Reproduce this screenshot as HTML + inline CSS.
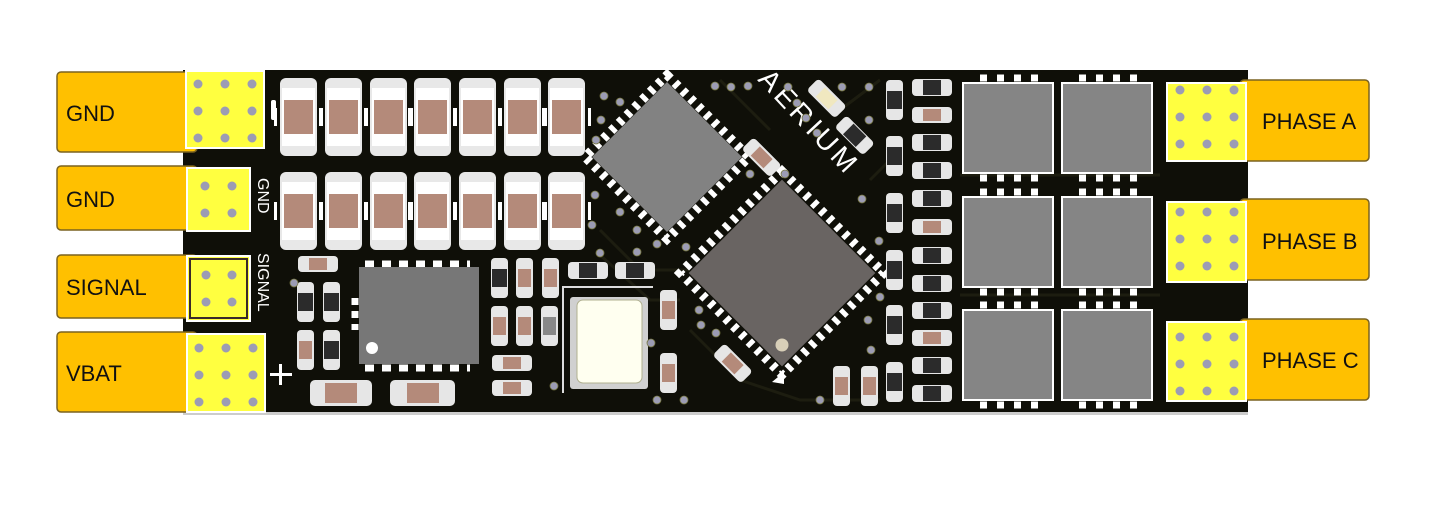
<!DOCTYPE html>
<html><head><meta charset="utf-8"><style>
html,body{margin:0;padding:0;background:#fff;width:1449px;height:511px;overflow:hidden}
svg{display:block}
</style></head><body>
<svg width="1449" height="511" viewBox="0 0 1449 511" xmlns="http://www.w3.org/2000/svg" font-family="Liberation Sans, sans-serif">
<defs>
  <g id="cap">
    <rect x="0" y="0" width="37" height="78" rx="6" fill="#e8e8e8"/>
    <rect x="2" y="10" width="33" height="58" fill="#ffffff"/>
    <rect x="4" y="22" width="29" height="34" fill="#b48a7a"/>
    <rect x="40" y="30" width="3" height="18" fill="#fff"/>
    <rect x="-6" y="30" width="3" height="18" fill="#fff"/>
  </g>
  <g id="vb"><rect width="17" height="40" rx="4" fill="#e6e6e6"/><rect x="1" y="11" width="15" height="18" fill="#2b2b2b"/></g>
  <g id="vr"><rect width="17" height="40" rx="4" fill="#e6e6e6"/><rect x="2" y="11" width="13" height="18" fill="#b48a7a"/></g>
  <g id="hr"><rect width="40" height="16" rx="4" fill="#e6e6e6"/><rect x="11" y="2" width="18" height="12" fill="#b48a7a"/></g>
  <g id="hb"><rect width="40" height="17" rx="4" fill="#e6e6e6"/><rect x="11" y="1" width="18" height="15" fill="#2b2b2b"/></g>
  <g id="pad3">
    <circle cx="0" cy="0" r="4.5" fill="#9c9cb4"/><circle cx="27" cy="0" r="4.5" fill="#9c9cb4"/><circle cx="54" cy="0" r="4.5" fill="#9c9cb4"/>
    <circle cx="0" cy="27" r="4.5" fill="#9c9cb4"/><circle cx="27" cy="27" r="4.5" fill="#9c9cb4"/><circle cx="54" cy="27" r="4.5" fill="#9c9cb4"/>
    <circle cx="0" cy="54" r="4.5" fill="#9c9cb4"/><circle cx="27" cy="54" r="4.5" fill="#9c9cb4"/><circle cx="54" cy="54" r="4.5" fill="#9c9cb4"/>
  </g>
  <g id="mos">
    <line x1="17" y1="-5" x2="80" y2="-5" stroke="#fff" stroke-width="7" stroke-dasharray="7 10"/>
    <line x1="17" y1="95" x2="80" y2="95" stroke="#fff" stroke-width="7" stroke-dasharray="7 10"/>
    <rect x="0" y="0" width="90" height="90" fill="#858585" stroke="#fff" stroke-width="2"/>
  </g>
  <g id="via"><circle r="4" fill="#9c9cb4" stroke="#777740" stroke-width="0.8"/></g>
</defs>

<rect x="183" y="70" width="1065" height="344" fill="#0f0f08"/>
<rect x="183" y="412" width="1065" height="3" fill="#ccc"/>
<g stroke="#1d1d10" stroke-width="3" fill="none">
  <path d="M600 230 L640 270 L690 270"/><path d="M600 255 L650 300 L680 300"/>
  <path d="M690 330 L740 380 L800 400 L880 400"/><path d="M870 180 L900 150"/>
  <path d="M840 110 L880 80"/><path d="M720 80 L770 130"/>
  <path d="M960 175 L1160 175"/><path d="M960 295 L1160 295"/>
</g>

<g fill="#ffc000" stroke="#7a6220" stroke-width="1.5">
  <rect x="57" y="72" width="140" height="80" rx="4"/>
  <rect x="57" y="166" width="140" height="64" rx="4"/>
  <rect x="57" y="255" width="140" height="63" rx="4"/>
  <rect x="57" y="332" width="140" height="80" rx="4"/>
</g>
<g font-size="22" fill="#111">
  <text x="66" y="121">GND</text>
  <text x="66" y="207">GND</text>
  <text x="66" y="295">SIGNAL</text>
  <text x="66" y="381">VBAT</text>
</g>
<g fill="#ffc000" stroke="#7a6220" stroke-width="1.5">
  <rect x="1240" y="80" width="129" height="81" rx="4"/>
  <rect x="1240" y="199" width="129" height="81" rx="4"/>
  <rect x="1240" y="319" width="129" height="81" rx="4"/>
</g>
<g font-size="22" fill="#111">
  <text x="1262" y="129">PHASE A</text>
  <text x="1262" y="249">PHASE B</text>
  <text x="1262" y="368">PHASE C</text>
</g>

<rect x="186" y="71" width="78" height="77" fill="#ffff40" stroke="#fff" stroke-width="2"/>
<use href="#pad3" x="198" y="84"/>
<rect x="187" y="168" width="63" height="63" fill="#ffff40" stroke="#fff" stroke-width="2"/>
<g fill="#9c9cb4"><circle cx="205" cy="186" r="4.5"/><circle cx="232" cy="186" r="4.5"/><circle cx="205" cy="213" r="4.5"/><circle cx="232" cy="213" r="4.5"/></g>
<rect x="187" y="256" width="63" height="65" fill="#ffff40" stroke="#fff" stroke-width="2"/>
<rect x="190" y="259" width="57" height="59" fill="none" stroke="#3a2a2a" stroke-width="2"/>
<g fill="#9c9cb4"><circle cx="206" cy="275" r="4.5"/><circle cx="232" cy="275" r="4.5"/><circle cx="206" cy="302" r="4.5"/><circle cx="232" cy="302" r="4.5"/></g>
<rect x="187" y="334" width="78" height="78" fill="#ffff40" stroke="#fff" stroke-width="2"/>
<use href="#pad3" x="199" y="348"/>
<g fill="#fff" font-size="16">
  <text transform="translate(258,178) rotate(90)">GND</text>
  <text transform="translate(258,253) rotate(90)">SIGNAL</text>
</g>
<rect x="270" y="373" width="22" height="3" fill="#fff"/><rect x="279" y="364" width="3" height="21" fill="#fff"/>
<rect x="271" y="100" width="5" height="20" rx="2" fill="#fff"/>

<rect x="1167" y="83" width="79" height="78" fill="#ffff40" stroke="#fff" stroke-width="2"/>
<use href="#pad3" x="1180" y="90"/>
<rect x="1167" y="202" width="79" height="80" fill="#ffff40" stroke="#fff" stroke-width="2"/>
<use href="#pad3" x="1180" y="212"/>
<rect x="1167" y="322" width="79" height="79" fill="#ffff40" stroke="#fff" stroke-width="2"/>
<use href="#pad3" x="1180" y="337"/>

<use href="#cap" x="280" y="78"/><use href="#cap" x="325" y="78"/><use href="#cap" x="370" y="78"/><use href="#cap" x="414" y="78"/><use href="#cap" x="459" y="78"/><use href="#cap" x="504" y="78"/><use href="#cap" x="548" y="78"/>
<use href="#cap" x="280" y="172"/><use href="#cap" x="325" y="172"/><use href="#cap" x="370" y="172"/><use href="#cap" x="414" y="172"/><use href="#cap" x="459" y="172"/><use href="#cap" x="504" y="172"/><use href="#cap" x="548" y="172"/>

<line x1="365" y1="264" x2="470" y2="264" stroke="#fff" stroke-width="7" stroke-dasharray="9 8"/>
<line x1="365" y1="368" x2="470" y2="368" stroke="#fff" stroke-width="7" stroke-dasharray="9 8"/>
<line x1="355" y1="298" x2="355" y2="330" stroke="#fff" stroke-width="7" stroke-dasharray="7 6"/>
<rect x="359" y="267" width="120" height="97" fill="#777"/>
<circle cx="372" cy="348" r="6" fill="#fff"/>

<use href="#hr" x="298" y="256"/>
<use href="#vb" x="297" y="282"/><use href="#vb" x="323" y="282"/>
<use href="#vr" x="297" y="330"/><use href="#vb" x="323" y="330"/>
<g><rect x="310" y="380" width="62" height="26" rx="5" fill="#e6e6e6"/><rect x="325" y="383" width="32" height="20" fill="#b48a7a"/></g>
<g><rect x="390" y="380" width="65" height="26" rx="5" fill="#e6e6e6"/><rect x="407" y="383" width="32" height="20" fill="#b48a7a"/></g>
<use href="#vb" x="491" y="258"/><use href="#vr" x="516" y="258"/><use href="#vr" x="542" y="258"/>
<use href="#vr" x="491" y="306"/><use href="#vr" x="516" y="306"/>
<g><rect x="541" y="306" width="17" height="40" rx="4" fill="#e6e6e6"/><rect x="543" y="317" width="13" height="18" fill="#888"/></g>
<use href="#hr" x="492" y="355"/><use href="#hr" x="492" y="380"/>
<use href="#hb" x="568" y="262"/><use href="#hb" x="615" y="262"/>
<use href="#vr" x="660" y="290"/><use href="#vr" x="660" y="353"/>

<path d="M563 393 L563 287 L653 287" fill="none" stroke="#ddd" stroke-width="2"/>
<rect x="570" y="297" width="78" height="92" rx="3" fill="#d0d0d0"/>
<rect x="577" y="300" width="65" height="83" rx="6" fill="#fffff0" stroke="#b0b090" stroke-width="1"/>

<g transform="translate(667,157) rotate(45)">
  <rect x="-58" y="-58" width="116" height="116" fill="none" stroke="#fff" stroke-width="9" stroke-dasharray="5 6"/>
  <rect x="-53" y="-53" width="106" height="106" fill="#828282"/>
</g>
<g transform="translate(782,273) rotate(45)">
  <rect x="-72" y="-72" width="144" height="144" fill="none" stroke="#fff" stroke-width="9" stroke-dasharray="5 6"/>
  <rect x="-66" y="-66" width="132" height="132" fill="#696462"/>
</g>
<circle cx="782" cy="345" r="6.5" fill="#d8cfb8"/>
<path d="M772 382 L784 372 L784 384 Z" fill="#fff"/>

<text transform="translate(757,80) rotate(47)" fill="#fff" font-size="28" letter-spacing="4">AERIUM</text>

<g transform="translate(762,157) rotate(45)"><rect x="-20" y="-8" width="40" height="17" rx="4" fill="#e6e6e6"/><rect x="-9" y="-6" width="18" height="13" fill="#b48a7a"/></g>
<g transform="translate(733,363) rotate(45)"><rect x="-20" y="-8" width="40" height="17" rx="4" fill="#e6e6e6"/><rect x="-9" y="-6" width="18" height="13" fill="#b48a7a"/></g>
<g transform="translate(827,98) rotate(45)"><rect x="-20" y="-8" width="40" height="17" rx="4" fill="#e6e6e6"/><rect x="-9" y="-6" width="18" height="13" fill="#f0e8c0"/></g>
<g transform="translate(855,135) rotate(45)"><rect x="-20" y="-8" width="40" height="17" rx="4" fill="#e6e6e6"/><rect x="-9" y="-7" width="18" height="15" fill="#2b2b2b"/></g>

<use href="#vb" x="886" y="80"/><use href="#vb" x="886" y="136"/><use href="#vb" x="886" y="193"/><use href="#vb" x="886" y="250"/><use href="#vb" x="886" y="305"/><use href="#vb" x="886" y="362"/>
<use href="#hb" x="912" y="79"/><use href="#hr" x="912" y="107"/><use href="#hb" x="912" y="134"/><use href="#hb" x="912" y="162"/>
<use href="#hb" x="912" y="190"/><use href="#hr" x="912" y="219"/><use href="#hb" x="912" y="247"/><use href="#hb" x="912" y="275"/>
<use href="#hb" x="912" y="302"/><use href="#hr" x="912" y="330"/><use href="#hb" x="912" y="357"/><use href="#hb" x="912" y="385"/>
<use href="#vr" x="833" y="366"/><use href="#vr" x="861" y="366"/>

<use href="#mos" x="963" y="83"/><use href="#mos" x="1062" y="83"/>
<use href="#mos" x="963" y="197"/><use href="#mos" x="1062" y="197"/>
<use href="#mos" x="963" y="310"/><use href="#mos" x="1062" y="310"/>

<use href="#via" x="604" y="96"/><use href="#via" x="601" y="120"/><use href="#via" x="596" y="140"/><use href="#via" x="620" y="102"/>
<use href="#via" x="595" y="195"/><use href="#via" x="592" y="225"/><use href="#via" x="620" y="212"/><use href="#via" x="600" y="253"/>
<use href="#via" x="637" y="230"/><use href="#via" x="637" y="252"/><use href="#via" x="657" y="244"/>
<use href="#via" x="715" y="86"/><use href="#via" x="731" y="87"/><use href="#via" x="748" y="86"/><use href="#via" x="788" y="87"/>
<use href="#via" x="842" y="87"/><use href="#via" x="869" y="87"/><use href="#via" x="797" y="103"/><use href="#via" x="806" y="118"/>
<use href="#via" x="869" y="120"/><use href="#via" x="817" y="133"/><use href="#via" x="750" y="174"/><use href="#via" x="785" y="174"/>
<use href="#via" x="862" y="199"/><use href="#via" x="879" y="241"/><use href="#via" x="880" y="297"/><use href="#via" x="686" y="247"/>
<use href="#via" x="699" y="310"/><use href="#via" x="701" y="325"/><use href="#via" x="716" y="333"/><use href="#via" x="871" y="350"/>
<use href="#via" x="657" y="400"/><use href="#via" x="684" y="400"/><use href="#via" x="820" y="400"/><use href="#via" x="651" y="343"/>
<use href="#via" x="554" y="386"/><use href="#via" x="294" y="283"/><use href="#via" x="868" y="320"/>
</svg>
</body></html>
